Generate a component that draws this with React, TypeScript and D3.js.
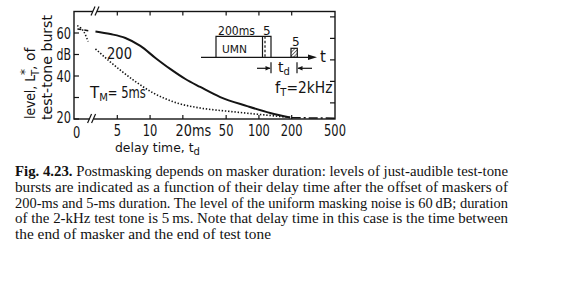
import React from "react";
import * as d3 from "d3";

// Delay time t_d (ms) and level (dB) of just-audible test-tone bursts
const masker200T = [3.15, 4.32, 5.93, 8.14, 11.2, 15.3, 21.1, 28.9, 44.1, 78, 127, 194];
const masker200L = [60.7, 59.5, 57.7, 54.0, 48.4, 43.3, 38.6, 34.9, 30.2, 26.0, 22.8, 20.7];
const masker5T = [3.15, 4.32, 7.03, 10.7, 17.8, 28.9, 54.5, 102.6, 194];
const masker5L = [52.6, 46.5, 38.1, 32.1, 27.4, 25.1, 23.5, 22.1, 20.7];
// short extrapolations near t_d = 0, before the axis break
const near0Masker5T = [2.14, 2.29, 2.46, 2.59, 2.7];
const near0Masker5L = [63.4, 62.5, 60.6, 58.3, 56.0];
const near0Masker200T = [2.15, 2.83];
const near0Masker200L = [61.9, 60.9];
// threshold in quiet continuation
const quietT = [200, 500];
const quietL = [20.6, 20.4];

const xTicks = [5, 10, 20, 50, 100, 200, 500];
const xTickLabels = ["5", "10", "20", "50", "100", "200", "500"];
const yTicks = [60, 50, 40, 30, 20];
const yTickLabels = ["60", "dB", "40", "", "20"];
const yRightTicks = [67.5, 57.5, 47.5, 37.5, 27.5];

const captionLines = [
  "Postmasking depends on masker duration: levels of just-audible test-tone",
  "bursts are indicated as a function of their delay time after the offset of maskers of",
  "200-ms and 5-ms duration. The level of the uniform masking noise is 60\u2009dB; duration",
  "of the 2-kHz test tone is 5\u2009ms. Note that delay time in this case is the time between",
  "the end of masker and the end of test tone",
];

const W = 576;
const H = 285;
const left = 74;
const right = 335;
const top = 11.5;
const bottom = 119;

const x = d3.scaleLog().domain([2, 500]).range([left, right]);
const y = d3.scaleLinear().domain([20, 70]).range([bottom, top]);

const zip = (ts: number[], ls: number[]) => ts.map((t, i) => [t, ls[i]] as [number, number]);

const line = d3
  .line<[number, number]>()
  .x((d) => x(d[0]))
  .y((d) => y(d[1]))
  .curve(d3.curveMonotoneX);

const ink = "#141414";
const sans = "'DejaVu Sans', sans-serif";
const serif = "'Liberation Serif', 'Times New Roman', serif";
// narrow lettering: digit advance in px
const digitW = 7.3;

export default function App() {
  const breakBottom = x(2.9);
  const breakTop = x(3.12);
  // inset schematic origin
  const ix = 216;
  const iy = 57.3;
  return (
    <svg
      width={W}
      height={H}
      viewBox={`0 0 ${W} ${H}`}
      style={{ position: "absolute", left: 0, top: 0, background: "#fff" }}
    >
      <defs>
        <pattern id="hatch" width="2.5" height="2.5" patternUnits="userSpaceOnUse" patternTransform="rotate(45)">
          <line x1="0" y1="0" x2="0" y2="2.5" stroke={ink} strokeWidth="1.1" />
        </pattern>
      </defs>

      {/* frame */}
      <rect x={left} y={top} width={right - left} height={bottom - top} fill="none" stroke={ink} strokeWidth={1.4} />

      {/* axis breaks */}
      <rect x={breakBottom - 2} y={bottom - 2} width={4} height={4} fill="#fff" />
      <line x1={breakBottom - 4} y1={bottom + 4} x2={breakBottom} y2={bottom - 5} stroke={ink} strokeWidth={1.2} />
      <line x1={breakBottom} y1={bottom + 4} x2={breakBottom + 4} y2={bottom - 5} stroke={ink} strokeWidth={1.2} />
      <rect x={breakTop - 2} y={top - 2} width={4} height={4} fill="#fff" />
      <line x1={breakTop - 4} y1={top + 4} x2={breakTop} y2={top - 5} stroke={ink} strokeWidth={1.2} />
      <line x1={breakTop} y1={top + 4} x2={breakTop + 4} y2={top - 5} stroke={ink} strokeWidth={1.2} />

      {/* x ticks, bottom and top */}
      {xTicks.map((t, i) => {
        const lab = xTickLabels[i];
        const isMs = t === 20;
        const w = isMs ? lab.length * digitW + 21 : lab.length * digitW;
        return (
          <g key={"xt" + t}>
            {t < 500 && (
              <>
                <line x1={x(t)} x2={x(t)} y1={bottom} y2={bottom - 4} stroke={ink} strokeWidth={1.2} />
                <line x1={x(t)} x2={x(t)} y1={top} y2={top + 4} stroke={ink} strokeWidth={1.2} />
              </>
            )}
            <text
              x={x(t) - (lab.length * digitW) / 2}
              y={136}
              fontFamily={sans}
              fontSize={15}
              fill={ink}
              textLength={w}
              lengthAdjust="spacingAndGlyphs"
            >
              {isMs ? lab + "ms" : lab}
            </text>
          </g>
        );
      })}
      <text
        x={left - 1}
        y={137.5}
        fontFamily={sans}
        fontSize={15}
        fill={ink}
        textLength={digitW}
        lengthAdjust="spacingAndGlyphs"
      >
        0
      </text>

      {/* y ticks */}
      {yTicks.map((v, i) => (
        <g key={"yt" + v}>
          <line x1={left} x2={left + 5} y1={y(v)} y2={y(v)} stroke={ink} strokeWidth={1.2} />
          {yTickLabels[i] && (
            <text
              x={left - 17.5}
              y={y(v) + (v === 20 ? 4 : 5.5)}
              fontFamily={sans}
              fontSize={15}
              fill={ink}
              textLength={14.5}
              lengthAdjust="spacingAndGlyphs"
            >
              {yTickLabels[i]}
            </text>
          )}
        </g>
      ))}
      {yRightTicks.map((v) => (
        <line key={"yr" + v} x1={right} x2={right - 5} y1={y(v)} y2={y(v)} stroke={ink} strokeWidth={1.2} />
      ))}

      {/* y axis title */}
      <g fontFamily={sans} fontSize={14} fill={ink}>
        <text transform={`translate(35,119) rotate(-90)`}>
          <tspan textLength={44} lengthAdjust="spacingAndGlyphs">level, L</tspan>
          <tspan dy={-6} fontSize={12}>*</tspan>
          <tspan dx={-7} dy={10} fontSize={10}>T</tspan>
          <tspan dy={-4}>, of</tspan>
        </text>
        <text transform={`translate(52,120) rotate(-90)`} textLength={105} lengthAdjust="spacingAndGlyphs">
          test-tone burst
        </text>
      </g>

      {/* x axis title */}
      <text x={115} y={151.5} fontFamily={sans} fontSize={12.4} fill={ink}>
        delay time, t<tspan fontSize={10} dy={3.5}>d</tspan>
      </text>

      {/* curves */}
      <path d={line(zip(masker200T, masker200L)) || ""} fill="none" stroke={ink} strokeWidth={2} />
      <path
        d={line(zip(masker5T, masker5L)) || ""}
        fill="none"
        stroke={ink}
        strokeWidth={1.6}
        strokeDasharray="1.4 1.8"
      />
      <path
        d={line(zip(near0Masker5T, near0Masker5L)) || ""}
        fill="none"
        stroke={ink}
        strokeWidth={1.5}
        strokeDasharray="1.4 1.8"
      />
      <path
        d={line(zip(near0Masker200T, near0Masker200L)) || ""}
        fill="none"
        stroke={ink}
        strokeWidth={1.5}
        strokeDasharray="4 3"
      />
      <path
        d={line(zip(quietT, quietL)) || ""}
        fill="none"
        stroke={ink}
        strokeWidth={1.5}
        strokeDasharray="9 3 2 3"
      />

      {/* curve labels */}
      <text x={107} y={59} fontFamily={sans} fontSize={15} fill={ink} textLength={25} lengthAdjust="spacingAndGlyphs">
        200
      </text>
      <text x={90} y={98} fontFamily={sans} fontSize={15} fill={ink}>
        T<tspan fontSize={10} dy={3}>M</tspan>
        <tspan dy={-3} textLength={38} lengthAdjust="spacingAndGlyphs">= 5ms</tspan>
      </text>
      <text x={275} y={93} fontFamily={sans} fontSize={15} fill={ink}>
        f<tspan fontSize={10} dy={3}>T</tspan>
        <tspan dy={-3} textLength={46} lengthAdjust="spacingAndGlyphs">=2kHz</tspan>
      </text>

      {/* stimulus schematic */}
      <g stroke={ink} fill="none" strokeWidth={1.2}>
        <path d={`M${ix},${iy} V${iy - 21} H${ix + 55} V${iy}`} />
        <line x1={ix + 46.5} x2={ix + 46.5} y1={iy - 21} y2={iy} />
        <line x1={ix + 49} x2={ix + 49} y1={iy - 21} y2={iy} strokeDasharray="2.5 2" />
        <rect x={ix + 75} y={iy - 9} width={6.3} height={9} fill="url(#hatch)" />
        <line x1={ix - 15} x2={ix + 94} y1={iy} y2={iy} />
        <line x1={ix + 55} x2={ix + 55} y1={iy + 5} y2={iy + 16} />
        <line x1={ix + 81} x2={ix + 81} y1={iy + 5} y2={iy + 16} />
        <line x1={ix + 41} x2={ix + 54} y1={iy + 11} y2={iy + 11} />
        <line x1={ix + 82} x2={ix + 96} y1={iy + 11} y2={iy + 11} />
      </g>
      <path d={`M${ix + 101},${iy} l-9,-2.8 v5.6 z`} fill={ink} />
      <path d={`M${ix + 54.5},${iy + 11} l-5,-2.3 v4.6 z`} fill={ink} />
      <path d={`M${ix + 81.5},${iy + 11} l5,-2.3 v4.6 z`} fill={ink} />
      <g fontFamily={sans} fill={ink}>
        <text x={ix + 2} y={35} fontSize={12} textLength={37} lengthAdjust="spacingAndGlyphs">200ms</text>
        <text x={ix + 47} y={35} fontSize={12}>5</text>
        <text x={ix + 76} y={46} fontSize={12}>5</text>
        <text x={ix + 6} y={53} fontSize={11} textLength={25} lengthAdjust="spacingAndGlyphs">UMN</text>
        <text x={ix + 104} y={62} fontSize={15}>t</text>
        <text x={ix + 62} y={72} fontSize={14}>
          t<tspan fontSize={10} dy={3}>d</tspan>
        </text>
      </g>

      {/* caption */}
      <g fontFamily={serif} fontSize={15} fill="#111">
        <text x={15} y={176} textLength={493} lengthAdjust="spacingAndGlyphs">
          <tspan fontWeight="bold">Fig. 4.23.</tspan> {captionLines[0]}
        </text>
        {captionLines.slice(1).map((s, i) => (
          <text
            key={i}
            x={15}
            y={192 + i * 15.7}
            textLength={i < 3 ? 493 : 256}
            lengthAdjust="spacingAndGlyphs"
          >
            {s}
          </text>
        ))}
      </g>
    </svg>
  );
}
